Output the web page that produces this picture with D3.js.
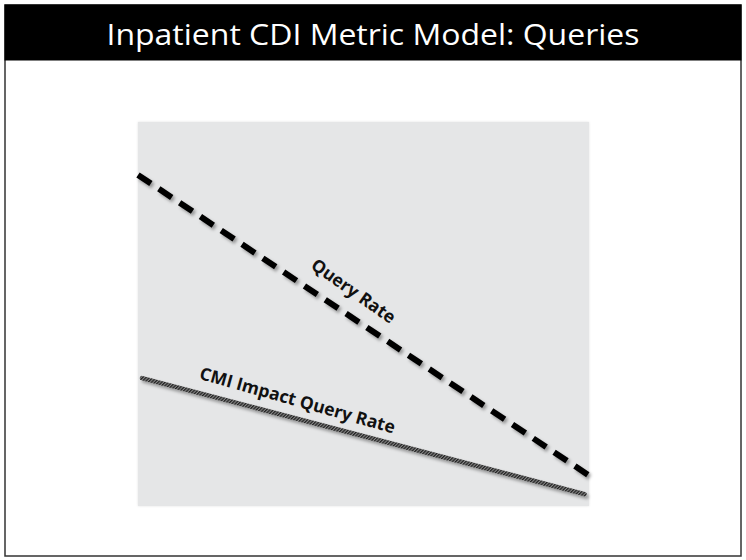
<!DOCTYPE html>
<html><head><meta charset="utf-8">
<script src="https://cdn.jsdelivr.net/npm/d3@7"></script>
<style>html,body{margin:0;padding:0;background:#fff;}svg{display:block;}</style>
</head><body>
<svg id="c" width="746" height="560"></svg>
<script>
const title = "Inpatient CDI Metric Model: Queries";
const seriesNames = ["Query Rate", "CMI Impact Query Rate"];
const queryX = [0, 99.8];
const queryY = [86.2, 8.1];
const cmiX = [0.9, 99.0];
const cmiY = [33.3, 3.1];
const labelPos = [ {x: 47.0, y: 54.7}, {x: 35.0, y: 26.0} ];

const svg = d3.select("#c");
const defs = svg.append("defs");
const f = defs.append("filter").attr("id","sh").attr("x","-10%").attr("y","-10%").attr("width","130%").attr("height","130%");
f.append("feDropShadow").attr("dx",2).attr("dy",2.5).attr("stdDeviation",1.6).attr("flood-color","#000").attr("flood-opacity",0.35);
const f2 = defs.append("filter").attr("id","psh").attr("x","-5%").attr("y","-5%").attr("width","110%").attr("height","110%");
f2.append("feDropShadow").attr("dx",0).attr("dy",0).attr("stdDeviation",1.2).attr("flood-color","#000").attr("flood-opacity",0.12);
const pat = defs.append("pattern").attr("id","hatch").attr("patternUnits","userSpaceOnUse")
  .attr("width",2.4).attr("height",2.4).attr("patternTransform","rotate(45)");
pat.append("rect").attr("width",2.4).attr("height",2.4).attr("fill","#8a8a8a");
pat.append("rect").attr("width",1.3).attr("height",2.4).attr("fill","#222");

svg.append("rect").attr("x",5).attr("y",5).attr("width",736).attr("height",551)
  .attr("fill","#fff").attr("stroke","#333").attr("stroke-width",1.5);
svg.append("rect").attr("x",4.5).attr("y",4.5).attr("width",737).attr("height",56).attr("fill","#000");
svg.append("text").attr("x",373).attr("y",45).attr("text-anchor","middle")
  .attr("fill","#fff").attr("font-family","Open Sans").attr("font-size",29).attr("font-weight",500)
  .attr("textLength",533).attr("lengthAdjust","spacingAndGlyphs").text(title);

const x = d3.scaleLinear().domain([0,100]).range([138,589]);
const y = d3.scaleLinear().domain([0,100]).range([506,122]);

svg.append("rect").attr("x",x(0)).attr("y",y(100)).attr("width",x(100)-x(0)).attr("height",y(0)-y(100))
  .attr("fill","#e5e6e7").attr("filter","url(#psh)");

const line = d3.line().x(d=>x(d[0])).y(d=>y(d[1]));
const qd = queryX.map((v,i)=>[v,queryY[i]]);
const cd = cmiX.map((v,i)=>[v,cmiY[i]]);

svg.append("path").attr("d",line(cd)).attr("fill","none").attr("stroke","url(#hatch)")
  .attr("stroke-width",4.5).attr("stroke-linecap","round").attr("filter","url(#sh)");
svg.append("path").attr("d",line(qd)).attr("fill","none").attr("stroke","#000")
  .attr("stroke-width",6).attr("stroke-dasharray","15.5,9.5").attr("filter","url(#sh)");

function ang(d){ return Math.atan2(y(d[1][1])-y(d[0][1]), x(d[1][0])-x(d[0][0]))*180/Math.PI; }
[qd, cd].forEach((d,i)=>{
  const px = x(labelPos[i].x), py = y(labelPos[i].y);
  svg.append("text").attr("transform",`translate(${px},${py}) rotate(${ang(d)+ (i==0?1.5:1)})`)
    .attr("text-anchor","middle").attr("font-family","Open Sans").attr("font-weight",700)
    .attr("font-size",17.5).attr("fill","#111").text(seriesNames[i]);
});
</script>
</body></html>
